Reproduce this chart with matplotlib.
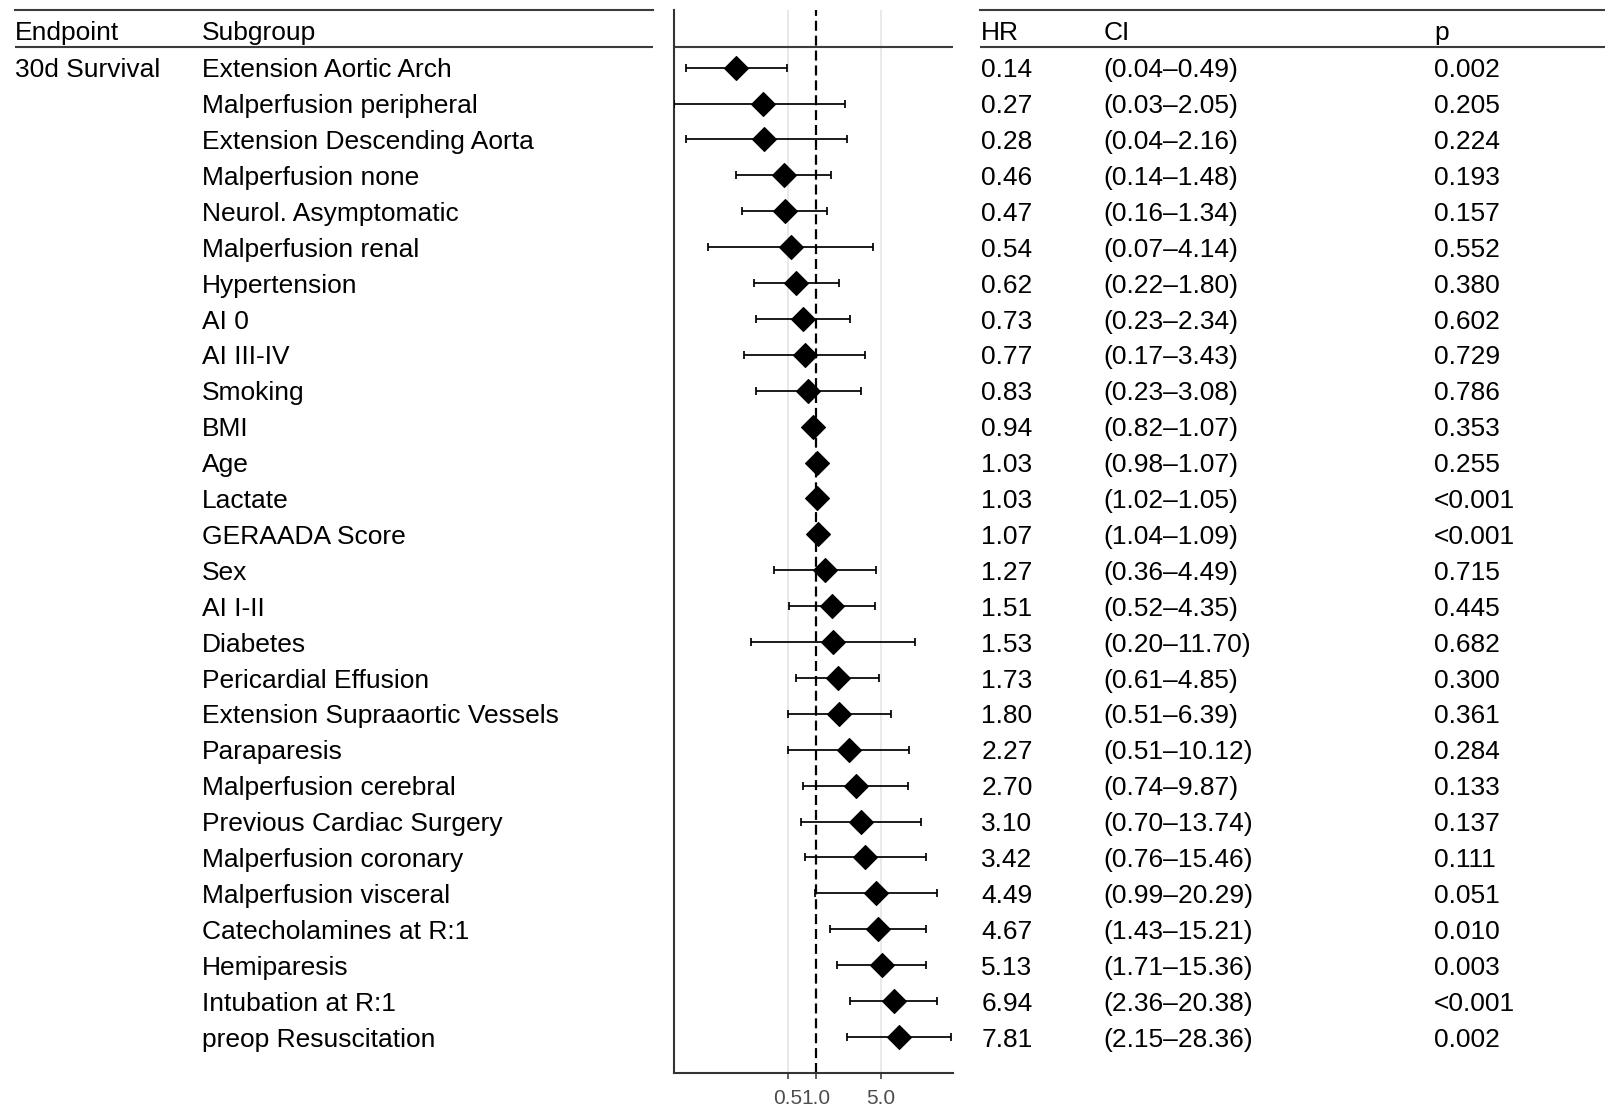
import matplotlib
matplotlib.use("Agg")
import matplotlib.pyplot as plt
import numpy as np

plt.rcParams['font.family'] = ['Liberation Sans', 'DejaVu Sans']

endpoint = "30d Survival"
subgroups = [
    "Extension Aortic Arch", "Malperfusion peripheral", "Extension Descending Aorta",
    "Malperfusion none", "Neurol. Asymptomatic", "Malperfusion renal", "Hypertension",
    "AI 0", "AI III-IV", "Smoking", "BMI", "Age", "Lactate", "GERAADA Score", "Sex",
    "AI I-II", "Diabetes", "Pericardial Effusion", "Extension Supraaortic Vessels",
    "Paraparesis", "Malperfusion cerebral", "Previous Cardiac Surgery",
    "Malperfusion coronary", "Malperfusion visceral", "Catecholamines at R:1",
    "Hemiparesis", "Intubation at R:1", "preop Resuscitation",
]
hr = [0.14, 0.27, 0.28, 0.46, 0.47, 0.54, 0.62, 0.73, 0.77, 0.83, 0.94, 1.03, 1.03,
      1.07, 1.27, 1.51, 1.53, 1.73, 1.80, 2.27, 2.70, 3.10, 3.42, 4.49, 4.67, 5.13,
      6.94, 7.81]
ci_low = [0.04, 0.03, 0.04, 0.14, 0.16, 0.07, 0.22, 0.23, 0.17, 0.23, 0.82, 0.98, 1.02,
          1.04, 0.36, 0.52, 0.20, 0.61, 0.51, 0.51, 0.74, 0.70, 0.76, 0.99, 1.43, 1.71,
          2.36, 2.15]
ci_high = [0.49, 2.05, 2.16, 1.48, 1.34, 4.14, 1.80, 2.34, 3.43, 3.08, 1.07, 1.07, 1.05,
           1.09, 4.49, 4.35, 11.70, 4.85, 6.39, 10.12, 9.87, 13.74, 15.46, 20.29, 15.21,
           15.36, 20.38, 28.36]
p_values = ["0.002", "0.205", "0.224", "0.193", "0.157", "0.552", "0.380", "0.602",
            "0.729", "0.786", "0.353", "0.255", "<0.001", "<0.001", "0.715", "0.445",
            "0.682", "0.300", "0.361", "0.284", "0.133", "0.137", "0.111", "0.051",
            "0.010", "0.003", "<0.001", "0.002"]
x_ticks = [0.5, 1.0, 5.0]
x_tick_labels = ["0.5", "1.0", "5.0"]
left_headers = ["Endpoint", "Subgroup"]
right_headers = ["HR", "CI", "p"]

W, H = 1606, 1108
fig = plt.figure(figsize=(W / 100, H / 100), dpi=100)

top_px, bot_px = 10, 1073
row0_px, row_step = 67.6, 35.9
y_top = (top_px - row0_px) / row_step + 1
y_bot = (bot_px - row0_px) / row_step + 1
y_hdr_line = (47 - row0_px) / row_step + 1

ax_b = (H - bot_px) / H
ax_h = (bot_px - top_px) / H

def fax(x0, x1):
    a = fig.add_axes([x0 / W, ax_b, (x1 - x0) / W, ax_h])
    a.set_ylim(y_bot, y_top)
    return a

line_col = '#3c3c3c'
fs = 19
rows = np.arange(1, len(subgroups) + 1)
txt_off = 0.27

# Left table
axL = fax(15, 653)
axL.set_xlim(0, 1)
axL.axis('off')
axL.axhline(y_top, color=line_col, lw=1.5, clip_on=False)
axL.axhline(y_hdr_line, color=line_col, lw=1.5)
colsL = [0.0, 0.293]
for xc, h in zip(colsL, left_headers):
    axL.text(xc, 0 + txt_off - 0.05, h, fontsize=fs, va='baseline', ha='left')
axL.text(colsL[0], 1 + txt_off, endpoint, fontsize=fs, va='baseline', ha='left')
for r, s in zip(rows, subgroups):
    axL.text(colsL[1], r + txt_off, s, fontsize=fs, va='baseline', ha='left')

# Right table
axR = fax(980, 1606)
axR.set_xlim(0, 1)
axR.axis('off')
axR.axhline(y_top, color=line_col, lw=1.5, clip_on=False)
axR.axhline(y_hdr_line, color=line_col, lw=1.5)
colsR = [0.002, 0.197, 0.725]
for xc, h in zip(colsR, right_headers):
    axR.text(xc, 0 + txt_off - 0.05, h, fontsize=fs, va='baseline', ha='left')
for r, v, lo, hi, p in zip(rows, hr, ci_low, ci_high, p_values):
    axR.text(colsR[0], r + txt_off, f"{v:.2f}", fontsize=fs, va='baseline', ha='left')
    axR.text(colsR[1], r + txt_off, f"({lo:.2f}\u2013{hi:.2f})", fontsize=fs, va='baseline', ha='left')
    axR.text(colsR[2], r + txt_off, p, fontsize=fs, va='baseline', ha='left')

# Forest plot
ax = fax(674, 953)
ax.set_xscale('log')
ax.set_xlim(0.03, 30)
for g in (0.5, 5.0):
    ax.axvline(g, color='#e3e3e3', lw=1.1, zorder=0)
ax.axvline(1.0, color='black', lw=1.6, ls=(0, (4.5, 2.2)), zorder=1)
ax.axhline(y_hdr_line, color=line_col, lw=1.5, zorder=2)
hr_a = np.array(hr)
ax.errorbar(hr_a, rows, xerr=[hr_a - np.array(ci_low), np.array(ci_high) - hr_a],
            fmt='none', ecolor='black', elinewidth=1.25, capsize=2.6, capthick=1.25, zorder=3)
ax.plot(hr_a, rows, 'D', ms=12.3, color='black', mec='black', mew=0.8, zorder=4)

for sp in ('top', 'right'):
    ax.spines[sp].set_visible(False)
for sp in ('left', 'bottom'):
    ax.spines[sp].set_color('#333333')
    ax.spines[sp].set_linewidth(1.5)
ax.set_yticks([])
ax.set_xticks(x_ticks)
ax.set_xticklabels(x_tick_labels)
ax.xaxis.set_minor_locator(matplotlib.ticker.NullLocator())
ax.tick_params(axis='x', length=4.5, width=1.1, color='#333333', pad=7,
               labelsize=15, labelcolor='#4d4d4d')

fig.savefig("out.png", dpi=100)
